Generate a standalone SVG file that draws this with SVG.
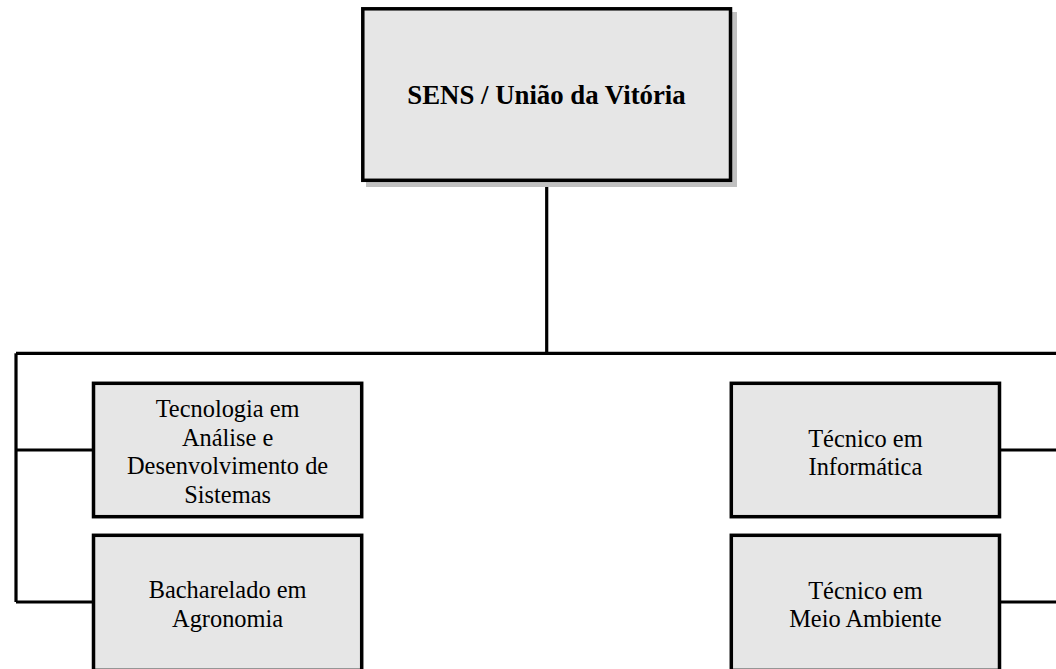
<svg xmlns="http://www.w3.org/2000/svg" width="1056" height="669" viewBox="0 0 1056 669">
<style>
.box{fill:#e6e6e6;stroke:#000;stroke-width:3.5}
.shadow{fill:#c0c0c0}
.conn{fill:none;stroke:#000;stroke-width:3.2}
.t{font-family:"Liberation Serif","Times New Roman",serif;font-size:24.4px;fill:#000;text-anchor:middle}
.tb{font-family:"Liberation Serif","Times New Roman",serif;font-size:26.8px;font-weight:bold;fill:#000;text-anchor:middle}
</style>
<rect width="1056" height="669" fill="#fff"/>
<g id="connectors">
<path class="conn" d="M546.7 180 V353.3"/>
<path class="conn" d="M16 353.3 H1060"/>
<path class="conn" d="M16 353.3 V602"/>
<path class="conn" d="M16 450 H93.5"/>
<path class="conn" d="M16 602 H93.5"/>
<path class="conn" d="M999.5 450 H1060"/>
<path class="conn" d="M999.5 602 H1060"/>
</g>
<g id="node-root">
<rect class="shadow" x="366" y="12" width="371" height="175"/>
<rect class="box" x="362.8" y="8.8" width="367.7" height="171.5"/>
<text class="tb" x="546.5" y="104">SENS / União da Vitória</text>
</g>
<g id="node-tads">
<rect class="box" x="93.5" y="383.3" width="268.2" height="133.4"/>
<text class="t" x="227.6" y="417">Tecnologia em</text>
<text class="t" x="227.6" y="445.5">Análise e</text>
<text class="t" x="227.6" y="474">Desenvolvimento de</text>
<text class="t" x="227.6" y="502.5">Sistemas</text>
</g>
<g id="node-agro">
<rect class="box" x="93.5" y="535.3" width="268.2" height="135.1"/>
<text class="t" x="227.6" y="598">Bacharelado em</text>
<text class="t" x="227.6" y="627">Agronomia</text>
</g>
<g id="node-info">
<rect class="box" x="731.3" y="383.3" width="268.2" height="133.4"/>
<text class="t" x="865.4" y="446.5">Técnico em</text>
<text class="t" x="865.4" y="475">Informática</text>
</g>
<g id="node-meio">
<rect class="box" x="731.3" y="535.3" width="268.2" height="135.1"/>
<text class="t" x="865.4" y="598.5">Técnico em</text>
<text class="t" x="865.4" y="627">Meio Ambiente</text>
</g>
</svg>
